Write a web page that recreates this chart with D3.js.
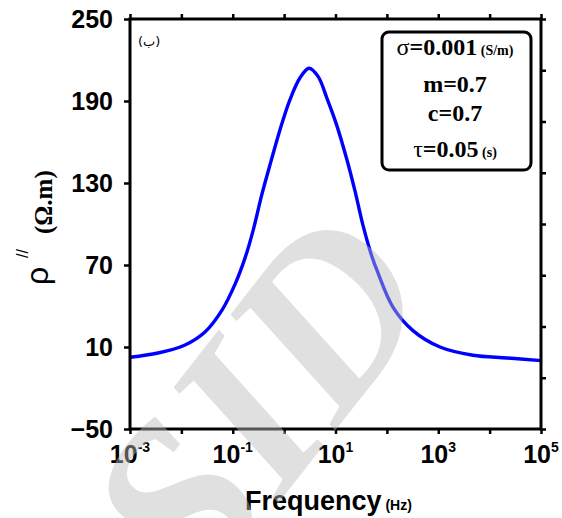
<!DOCTYPE html>
<html>
<head>
<meta charset="utf-8">
<script src="https://cdn.jsdelivr.net/npm/d3@7"></script>
<style>
  body { margin: 0; background: #fff; }
  svg { display: block; }
</style>
</head>
<body>
<div id="chart"></div>
<script>
// values
const frequency = [0.001, 0.0035, 0.0118, 0.0288, 0.0618, 0.111, 0.173, 0.248, 0.371, 0.556,
                   0.832, 1.30, 2.04, 3.05, 4.57, 6.82, 10.2, 16.7, 24.0, 34.3, 51.3, 64.3,
                   132, 322, 1080, 4740, 21800, 100000];
const rhoImag = [2.5, 5.6, 11.5, 21, 37, 56, 75, 95, 122, 146,
                 169, 191, 207, 214, 208, 192, 174, 147, 124, 99, 76, 66,
                 39, 22, 10, 4, 2, 0];

const yTicks = [-50, 10, 70, 130, 190, 250];
const xTickExps = [-3, -2, -1, 0, 1, 2, 3, 4, 5];
const xLabelExps = [-3, -1, 1, 3, 5];
const rightTicks = [0, 1, 2, 3, 4, 5, 6, 7, 8];

const paramLines = [
  { sym: 'σ', text: '=0.001', unit: ' (S/m)' },
  { sym: '', text: 'm=0.7', unit: '' },
  { sym: '', text: 'c=0.7', unit: '' },
  { sym: 'τ', text: '=0.05', unit: ' (s)' }
];
const panelLabel = '(ب)';

const width = 562;
const height = 518;
const margin = { top: 19, right: 21, bottom: 89, left: 130 };

const svg = d3.select('#chart').append('svg')
  .attr('width', width)
  .attr('height', height);

const x = d3.scaleLog()
  .domain([1e-3, 1e5])
  .range([margin.left, width - margin.right]);

const y = d3.scaleLinear()
  .domain([-50, 250])
  .range([height - margin.bottom, margin.top]);

// right axis just has 8 even divisions
const yRight = d3.scaleLinear()
  .domain([0, 8])
  .range([height - margin.bottom, margin.top]);

const sans = '"Liberation Sans", Arial, sans-serif';
const serif = '"Liberation Serif", "Times New Roman", serif';

// curve
const line = d3.line()
  .x((d, i) => x(frequency[i]))
  .y(d => y(d))
  .curve(d3.curveCatmullRom.alpha(0.5));

svg.append('path')
  .datum(rhoImag)
  .attr('fill', 'none')
  .attr('stroke', '#0000ff')
  .attr('stroke-width', 3.4)
  .attr('d', line);

// axes
const styleAxis = g => {
  g.select('.domain').remove();
  g.selectAll('.tick line').attr('stroke', '#000').attr('stroke-width', 2.5);
  g.selectAll('.tick text')
    .attr('fill', '#000')
    .style('font-family', sans)
    .style('font-weight', 'bold')
    .style('font-size', '25px');
};

svg.append('g')
  .attr('transform', `translate(${margin.left},0)`)
  .call(d3.axisLeft(y).tickValues(yTicks).tickSize(6).tickPadding(11))
  .call(styleAxis);

svg.append('g')
  .attr('transform', `translate(${width - margin.right},0)`)
  .call(d3.axisRight(yRight).tickValues(rightTicks).tickSize(5).tickFormat(''))
  .call(styleAxis);

svg.append('g')
  .attr('transform', `translate(0,${margin.top})`)
  .call(d3.axisTop(x).tickValues(xTickExps.map(e => Math.pow(10, e))).tickSize(5).tickFormat(''))
  .call(styleAxis);

svg.append('g')
  .attr('transform', `translate(0,${height - margin.bottom})`)
  .call(d3.axisBottom(x).tickValues(xTickExps.map(e => Math.pow(10, e))).tickSize(5).tickFormat(''))
  .call(styleAxis);

// power-of-ten labels
const xLab = svg.append('g')
  .selectAll('text')
  .data(xLabelExps)
  .enter()
  .append('text')
  .attr('x', d => x(Math.pow(10, d)))
  .attr('y', height - margin.bottom + 34)
  .attr('text-anchor', 'middle')
  .style('font-family', sans)
  .style('font-weight', 'bold')
  .style('font-size', '25px');
xLab.append('tspan').text('10');
xLab.append('tspan')
  .attr('dy', -11)
  .style('font-size', '14px')
  .text(d => d);

// frame
svg.append('rect')
  .attr('x', margin.left)
  .attr('y', margin.top)
  .attr('width', width - margin.left - margin.right)
  .attr('height', height - margin.top - margin.bottom)
  .attr('fill', 'none')
  .attr('stroke', '#000')
  .attr('stroke-width', 3);

// axis titles
const xTitle = svg.append('text')
  .attr('x', 245)
  .attr('y', 510)
  .style('font-family', sans)
  .style('font-weight', 'bold')
  .style('font-size', '27px');
xTitle.append('tspan').text('Frequency');
xTitle.append('tspan').style('font-size', '14px').text(' (Hz)');

svg.append('text')
  .attr('transform', 'translate(48,285) rotate(-90)')
  .style('font-family', sans)
  .style('font-size', '32px')
  .text('ρ');

svg.append('text')
  .attr('transform', 'translate(28,258) rotate(-90)')
  .style('font-family', sans)
  .style('font-size', '16px')
  .text('//');

svg.append('text')
  .attr('transform', 'translate(52,234) rotate(-90)')
  .style('font-family', serif)
  .style('font-weight', 'bold')
  .style('font-size', '25px')
  .text('(Ω.m)');

// panel label
svg.append('text')
  .attr('x', 138)
  .attr('y', 46)
  .style('font-family', '"DejaVu Sans", sans-serif')
  .style('font-size', '13px')
  .text(panelLabel);

// parameter box
svg.append('rect')
  .attr('x', 382)
  .attr('y', 32)
  .attr('width', 149)
  .attr('height', 138)
  .attr('rx', 7)
  .attr('fill', '#fff')
  .attr('stroke', '#000')
  .attr('stroke-width', 3);

const baselines = [55, 92, 121, 157];
const pText = svg.append('g')
  .selectAll('text')
  .data(paramLines)
  .enter()
  .append('text')
  .attr('x', 455)
  .attr('y', (d, i) => baselines[i])
  .attr('text-anchor', 'middle')
  .style('font-family', serif)
  .style('font-size', '24px');
pText.append('tspan').text(d => d.sym);
pText.append('tspan').style('font-weight', 'bold').text(d => d.text);
pText.append('tspan').style('font-weight', 'bold').style('font-size', '14px').text(d => d.unit);

// source watermark, drawn over everything
svg.append('text')
  .attr('transform', 'translate(320,450) rotate(-52)')
  .attr('text-anchor', 'middle')
  .attr('fill', '#bbb')
  .attr('opacity', 0.45)
  .style('font-family', serif)
  .style('font-weight', 'bold')
  .style('font-style', 'italic')
  .style('font-size', '235px')
  .text('SID');
</script>
</body>
</html>
